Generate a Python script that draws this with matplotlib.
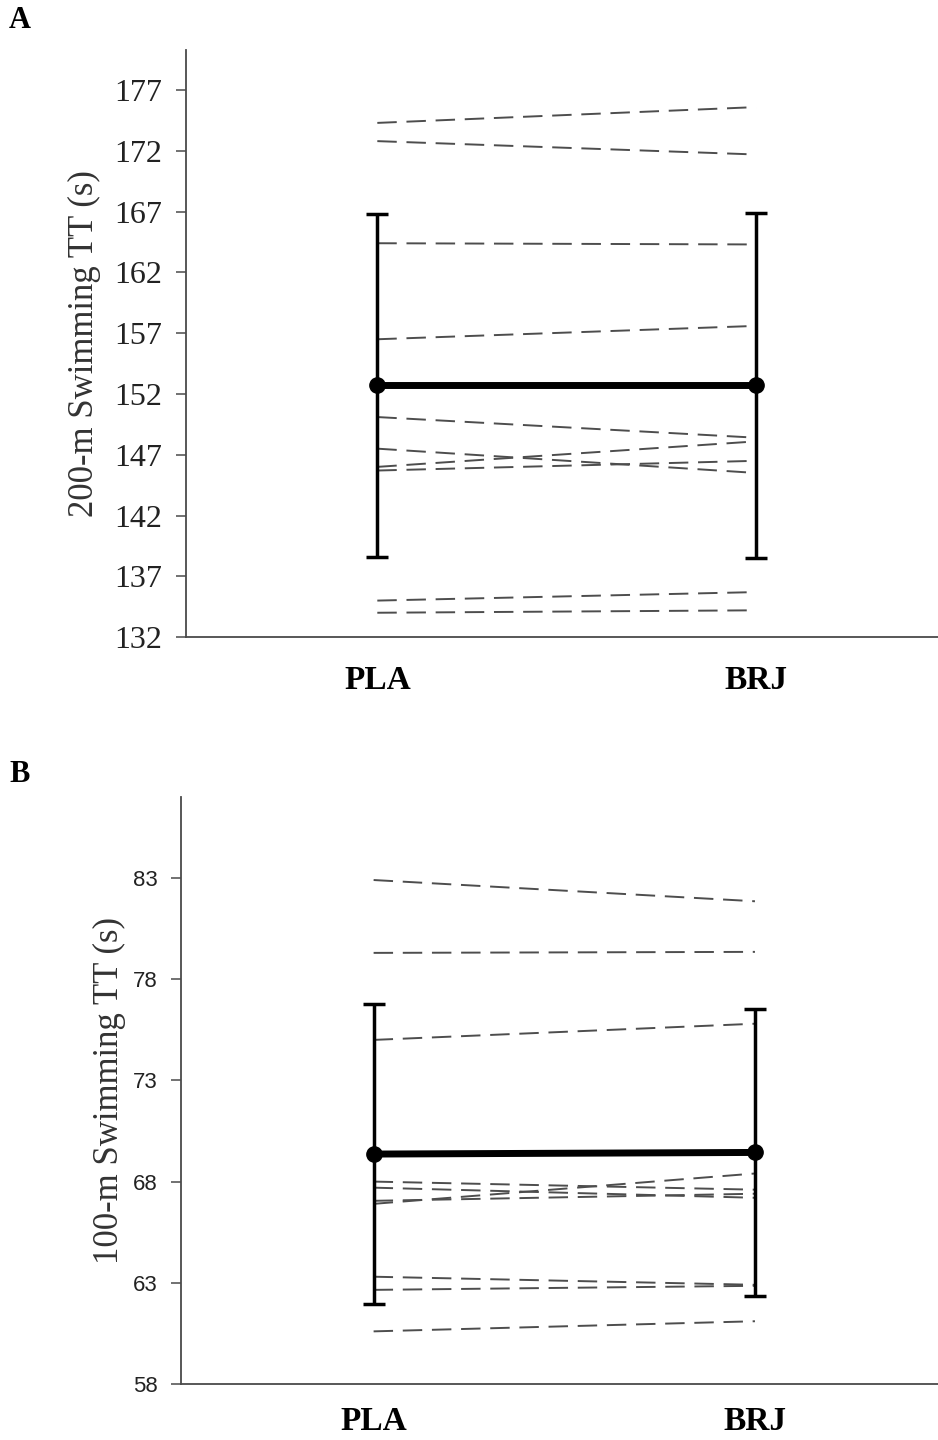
"""Paired swimming time-trial plot: PLA vs BRJ, 200-m (A) and 100-m (B)."""

import matplotlib
matplotlib.use("Agg")
import matplotlib.pyplot as plt
import numpy as np

# Conditions
conditions = ["PLA", "BRJ"]

# Panel A - 200-m TT (s), individual swimmers (PLA, BRJ)
tt200_pla = [174.3, 172.8, 164.4, 156.5, 150.1, 147.5, 146.0, 145.7, 135.0, 134.0]
tt200_brj = [175.6, 171.7, 164.3, 157.6, 148.4, 145.5, 148.1, 146.5, 135.7, 134.2]
tt200_mean = [152.7, 152.7]
tt200_sd = [14.1, 14.2]
ticks200 = [132, 137, 142, 147, 152, 157, 162, 167, 172, 177]

# Panel B - 100-m TT (s)
tt100_pla = [82.9, 79.3, 75.0, 68.0, 67.7, 67.05, 66.9, 63.3, 62.65, 60.6]
tt100_brj = [81.85, 79.35, 75.8, 67.6, 67.2, 67.4, 68.4, 62.9, 62.85, 61.1]
tt100_mean = [69.36, 69.44]
tt100_sd = [7.4, 7.1]
ticks100 = [58, 63, 68, 73, 78, 83]

SERIF = "Liberation Serif"
SANS = "Liberation Sans"
SPINE = "#4a4a4a"


def draw_panel(ax, pla, brj, mean, sd, ticks, ylim, ylabel, tick_family,
               tick_size, xpad, ylabelpad):
    x = np.arange(len(conditions))

    # individual swimmers
    for a, b in zip(pla, brj):
        ax.plot(x, [a, b], color="#4d4d4d", linewidth=1.4,
                linestyle=(0, (10, 5)), zorder=2)

    # group mean +/- SD
    ax.errorbar(x, mean, yerr=sd, color="black", linewidth=5.0,
                marker="o", markersize=11, elinewidth=2.5,
                capsize=8, capthick=2.5, zorder=3)

    ax.set_xlim(-0.505, 1.48)
    ax.set_ylim(*ylim)
    ax.set_yticks(ticks)
    ax.set_yticklabels([str(t) for t in ticks], family=tick_family,
                       fontsize=tick_size, color="#222222")
    ax.set_xticks(x)
    ax.set_xticklabels(conditions, family=SERIF, fontsize=24,
                       fontweight="bold")
    ax.tick_params(axis="x", length=0, pad=xpad)
    ax.tick_params(axis="y", direction="out", length=7, width=1.1,
                   color=SPINE, pad=10)
    ax.set_ylabel(ylabel, family=SERIF, fontsize=25, color="#333333",
                  labelpad=ylabelpad)

    for side in ["top", "right"]:
        ax.spines[side].set_visible(False)
    for side in ["left", "bottom"]:
        ax.spines[side].set_color(SPINE)
        ax.spines[side].set_linewidth(1.3)


fig = plt.figure(figsize=(9.38, 14.4), dpi=100)

ax_a = fig.add_axes([0.1983, 0.5576, 0.8017, 0.4077])
draw_panel(ax_a, tt200_pla, tt200_brj, tt200_mean, tt200_sd, ticks200,
           (132, 180.3), "200-m Swimming TT (s)", SERIF, 23, 20, 10)

ax_b = fig.add_axes([0.193, 0.0389, 0.807, 0.4076])
draw_panel(ax_b, tt100_pla, tt100_brj, tt100_mean, tt100_sd, ticks100,
           (58, 87.0), "100-m Swimming TT (s)", SANS, 16, 16, 5)

# panel letters
fig.text(20 / 938, 1 - 21 / 1440, "A", family=SERIF, fontsize=22,
         fontweight="bold", ha="center", va="center")
fig.text(20 / 938, 1 - 775 / 1440, "B", family=SERIF, fontsize=22,
         fontweight="bold", ha="center", va="center")

fig.savefig("out.png", dpi=100)
